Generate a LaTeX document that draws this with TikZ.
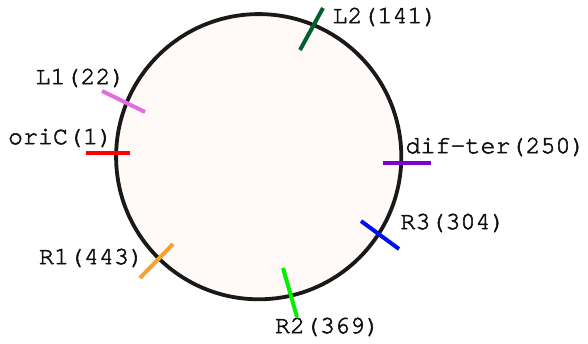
\documentclass[tikz,border=0pt]{standalone}
\usepackage{fontspec}
\newfontfamily\courfont[FakeBold=2.2]{TeX Gyre Cursor}
\definecolor{fillc}{HTML}{FFFAF7}
\definecolor{cRed}{HTML}{FF0000}
\definecolor{cViolet}{HTML}{E070E0}
\definecolor{cDkGreen}{HTML}{006030}
\definecolor{cPurple}{HTML}{7A00D0}
\definecolor{cBlue}{HTML}{0010F0}
\definecolor{cLime}{HTML}{00F000}
\definecolor{cOrange}{HTML}{F8A030}
\definecolor{cText}{HTML}{111111}
\tikzset{
  lbl/.style={inner sep=0pt, font=\courfont\fontsize{25}{25}\selectfont, text=cText},
  tick/.style={line width=4pt},
}
\begin{document}
\begin{tikzpicture}[x=1pt,y=-1pt]
\useasboundingbox (0,0) rectangle (588,344);
\fill[white] (0,0) rectangle (588,344);
\draw[line width=3.8pt, draw=black!90, fill=fillc] (258.7,156.7) circle[radius=142.6pt];
% tick endpoints
\coordinate (oa) at (86,153);  \coordinate (ob) at (130,153);
\coordinate (l1a) at (102,91); \coordinate (l1b) at (145,112);
\coordinate (l2a) at (323,8);  \coordinate (l2b) at (300,50);
\coordinate (da) at (383,163); \coordinate (db) at (431,163);
\coordinate (r3a) at (361,221); \coordinate (r3b) at (399,249);
\coordinate (r2a) at (283,268); \coordinate (r2b) at (297,317);
\coordinate (r1a) at (173,244); \coordinate (r1b) at (140,278);
\draw[tick, cRed] (oa) -- (ob);
\draw[tick, cViolet] (l1a) -- (l1b);
\draw[tick, cDkGreen] (l2a) -- (l2b);
\draw[tick, cPurple] (da) -- (db);
\draw[tick, cBlue] (r3a) -- (r3b);
\draw[tick, cLime] (r2a) -- (r2b);
\draw[tick, cOrange] (r1a) -- (r1b);
% labels
\node[lbl] (tL2) at (385,17) {L2(141)};
\node[lbl] (tL1) at (80.5,78) {L1(22)};
\node[lbl] (tOri) at (60.5,138) {oriC(1)};
\node[lbl] (tDif) at (495.5,147) {dif-ter(250)};
\node[lbl] (tR3) at (453,223) {R3(304)};
\node[lbl] (tR2) at (327.5,327) {R2(369)};
\node[lbl] (tR1) at (91.5,258) {R1(443)};
\end{tikzpicture}
\end{document}
